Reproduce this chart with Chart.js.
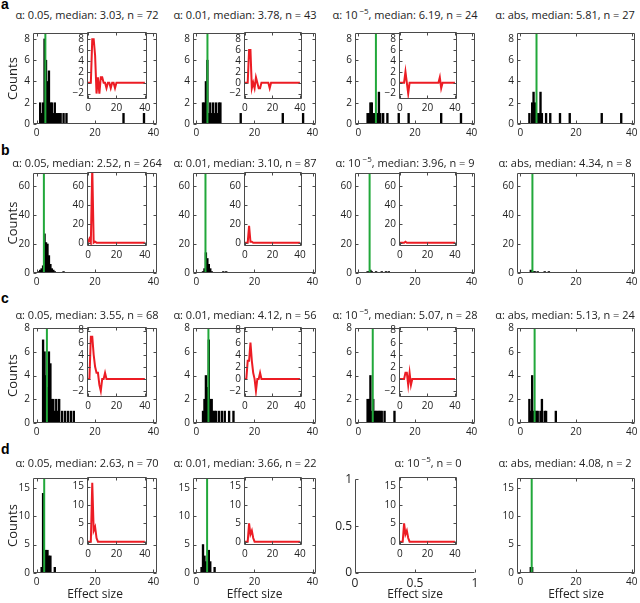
<!DOCTYPE html>
<html>
<head>
<meta charset="utf-8">
<script src="https://cdn.jsdelivr.net/npm/chart.js@4.4.1/dist/chart.umd.min.js"></script>
<style>
  body { margin: 0; width: 640px; height: 603px; position: relative; overflow: hidden; background: #fff;
         font-family: 'Open Sans', sans-serif; color: #222; }
  canvas { position: absolute; }
  canvas.inset { z-index: 2; }
  .ttl { position: absolute; font-size: 11px; line-height: 12px; white-space: nowrap; transform: translate(-50%, -50%); z-index: 1; }
  .ttl sup { font-size: 8px; line-height: 0; margin-left: 2px; }
  .lbl { position: absolute; font: bold 14px 'Liberation Sans', Arial, sans-serif; color: #000; }
</style>
</head>
<body>
<script>
// ---- data ----
const rowLetters = ['a', 'b', 'c', 'd'];
const titles = [
  ['α: 0.05, median: 3.03, n = 72', 'α: 0.01, median: 3.78, n = 43', 'α: 10<sup>−5</sup>, median: 6.19, n = 24', 'α: abs, median: 5.81, n = 27'],
  ['α: 0.05, median: 2.52, n = 264', 'α: 0.01, median: 3.10, n = 87', 'α: 10<sup>−5</sup>, median: 3.96, n = 9', 'α: abs, median: 4.34, n = 8'],
  ['α: 0.05, median: 3.55, n = 68', 'α: 0.01, median: 4.12, n = 56', 'α: 10<sup>−5</sup>, median: 5.07, n = 28', 'α: abs, median: 5.13, n = 24'],
  ['α: 0.05, median: 2.63, n = 70', 'α: 0.01, median: 3.66, n = 22', 'α: 10<sup>−5</sup>, n = 0', 'α: abs, median: 4.08, n = 2']
];
const medians = [
  [3.03, 3.78, 6.19, 5.81],
  [2.52, 3.10, 3.96, 4.34],
  [3.55, 4.12, 5.07, 5.13],
  [2.63, 3.66, null, 4.08]
];

// histograms: [bin centre, count]
const histA1 = [[1.25,2],[1.75,1],[2.25,2],[2.75,8],[3.25,6],[3.75,4],[4.25,5],[4.75,2],[5.25,2],[5.75,1],[6.25,2],[6.75,1],[7.25,1],[7.75,1],[8.25,1],[9.25,1],[10.25,1],[29.75,1],[36.75,1]];
const histA2 = [[2.25,2],[2.75,2],[3.25,4],[3.75,6],[4.25,1],[4.75,2],[5.25,1],[5.75,2],[6.25,1],[6.75,2],[7.25,1],[7.75,2],[8.25,2],[15.25,1],[29.75,1],[36.75,1]];
const histA3 = [[3.25,1],[3.75,1],[4.25,2],[4.75,2],[5.25,1],[5.75,1],[6.25,1],[6.75,1],[7.25,3],[7.75,1],[8.75,1],[10.25,1],[14.25,1],[17.75,1],[29.25,1],[36.25,1]];
const histA4 = [[3.25,1],[4.25,2],[4.75,3],[5.25,2],[5.75,1],[6.25,1],[6.75,1],[7.25,3],[7.75,1],[9.25,1],[10.75,1],[14.25,1],[17.75,1],[29.25,1],[36.25,1]];
const histB1 = [[0.75,1],[1.25,2],[1.75,3],[2.25,5],[2.75,27],[3.25,21],[3.75,20],[4.25,12],[4.75,6],[5.25,3],[5.75,2],[6.25,1],[9.25,1]];
const histB2 = [[2.25,1],[2.75,3],[3.25,14],[3.75,10],[4.25,6],[4.75,3],[5.25,1],[9.25,1],[10.25,1]];
const histB3 = [[3.25,1],[3.75,1],[4.25,2],[4.75,1],[6.25,1],[8.25,1],[9.75,1],[10.75,1]];
const histB4 = [[3.75,2],[4.25,1],[4.75,1],[5.25,1],[6.25,1],[8.75,1],[10.25,1]];
const histC1 = [[2.25,7],[2.75,6],[3.25,4],[3.75,3],[4.25,6],[4.75,5],[5.25,2],[5.75,2],[6.25,1],[6.75,2],[7.25,1],[7.75,2],[8.75,1],[9.75,1],[10.75,1],[11.75,1],[12.75,1]];
const histC2 = [[2.25,1],[2.75,2],[3.25,4],[3.75,3],[4.25,7],[4.75,2],[5.25,2],[5.75,1],[6.25,1],[6.75,1],[7.75,1],[8.75,1],[9.75,1],[11.25,1],[12.75,1]];
const histC3 = [[3.25,2],[3.75,2],[4.25,4],[4.75,1],[5.25,2],[5.75,1],[6.25,1],[6.75,1],[7.25,1],[7.75,1],[8.25,1],[9.25,1],[12.75,1]];
const histC4 = [[3.25,2],[3.75,1],[4.25,4],[4.75,1],[5.25,1],[5.75,1],[6.25,1],[7.25,1],[7.75,2],[8.75,1],[9.25,1],[12.75,1]];
const histD1 = [[1.75,1],[2.25,14],[2.75,4],[3.25,4],[3.75,4],[4.25,3],[4.75,3],[6.25,1]];
const histD2 = [[1.75,1],[2.25,5],[2.75,3],[3.25,2],[3.75,1],[4.25,4],[4.75,2],[6.25,1]];
const histD4 = [[3.75,1],[4.25,1]];

// inset difference curves, one value per effect size 0..40
const diffX  = [0,1,2,3,4,5,6,7,8,9,10,11,12,13,14,15,16,17,18,19,20,21,22,23,24,25,26,27,28,29,30,31,32,33,34,35,36,37,38,39,40];
const diffA1 = [0,0,0,8,8,5,-2,1,-2,1,1,0,0,-1,0,0,-1,0,0,-1,0,0,0,0,0,0,0,0,0,0,0,0,0,0,0,0,0,0,0,0,0];
const diffA2 = [0,0,0,6,6,-1,0,-1,1,0,-1,-1,0,0,0,0,0,0,-1,0,0,0,0,0,0,0,0,0,0,0,0,0,0,0,0,0,0,0,0,0,0];
const diffA3 = [0,0,0,0,2,0,-2,0,0,0,0,0,0,0,0,0,0,0,0,0,0,0,0,0,0,0,0,0,0,1,-1,0,0,0,0,0,0,0,0,0,0];
const diffB1 = [0,4,0,80,0,1,0,0,0,0,0,0,0,0,0,0,0,0,0,0,0,0,0,0,0,0,0,0,0,0,0,0,0,0,0,0,0,0,0,0,0];
const diffB2 = [0,0,0,18,1,1,0,0,0,0,0,0,0,0,0,0,0,0,0,0,0,0,0,0,0,0,0,0,0,0,0,0,0,0,0,0,0,0,0,0,0];
const diffB3 = [0,0,0,0,1,0,0,0,0,0,0,0,0,0,0,0,0,0,0,0,0,0,0,0,0,0,0,0,0,0,0,0,0,0,0,0,0,0,0,0,0];
const diffC1 = [0,0,7,7,4,2,1,1,-1,-2,0,0,1,0,0,0,0,0,0,0,0,0,0,0,0,0,0,0,0,0,0,0,0,0,0,0,0,0,0,0,0];
const diffC2 = [0,0,3,3,6,3,1,0,-2,0,0,1,0,0,0,0,0,0,0,0,0,0,0,0,0,0,0,0,0,0,0,0,0,0,0,0,0,0,0,0,0];
const diffC3 = [0,0,0,0,1,1,-1,1,-1,0,0,0,0,0,0,0,0,0,0,0,0,0,0,0,0,0,0,0,0,0,0,0,0,0,0,0,0,0,0,0,0];
const diffD1 = [0,0,0,16,3,4,1,0,0,0,0,0,0,0,0,0,0,0,0,0,0,0,0,0,0,0,0,0,0,0,0,0,0,0,0,0,0,0,0,0,0];
const diffD2 = [0,0,0,5,2,3,1,0,0,0,0,0,0,0,0,0,0,0,0,0,0,0,0,0,0,0,0,0,0,0,0,0,0,0,0,0,0,0,0,0,0];
const diffD3 = [0,0,0,5,2,3,1,0,0,0,0,0,0,0,0,0,0,0,0,0,0,0,0,0,0,0,0,0,0,0,0,0,0,0,0,0,0,0,0,0,0];

const hists = [[histA1, histA2, histA3, histA4], [histB1, histB2, histB3, histB4],
               [histC1, histC2, histC3, histC4], [histD1, histD2, null, histD4]];
const diffs = [[diffA1, diffA2, diffA3], [diffB1, diffB2, diffB3],
               [diffC1, diffC2, diffC3], [diffD1, diffD2, diffD3]];

// tick labels
const xTicks = [0, 20, 40];
const emptyTicks = [0, 0.5, 1];
const mainYTicks = [[0, 2, 4, 6, 8], [0, 20, 40, 60], [0, 2, 4, 6, 8], [0, 5, 10, 15]];
const insetYTicks = [[-2, 0, 2, 4, 6, 8], [0, 20, 40, 60], [-2, 0, 2, 4, 6, 8], [0, 5, 10, 15]];

// axis ranges per row
const yMax = [8.56, 69, 8, 16.7];
const insetY = [[-3, 9.33], [-3.5, 75], [-3, 8.6], [-0.9, 17.6]];

// ---- layout ----
const colX = [33, 193, 355, 517], colW = [124, 123, 120, 118];
const rowY = [32, 172, 327, 477], rowH = [92, 101, 96, 96];
const insX = [87, 244, 399], insW = [60, 58, 58];
const insH = [67, 74, 70, 68];
const titleX = [87, 245, 405, 565];
const titleY = [15, 163, 315, 463];

const GREEN = '#21a83a', RED = '#ec1c24', AXIS = '#4a4a4a';
const tickFont = { family: "'Open Sans', sans-serif", size: 10 };

const frame = {
  id: 'frame',
  beforeDraw(chart, args, o) {
    if (!o.white) return;
    const a = chart.chartArea, ctx = chart.ctx;
    ctx.save(); ctx.fillStyle = '#fff';
    ctx.fillRect(a.left, a.top, a.right - a.left, a.bottom - a.top);
    ctx.restore();
  },
  afterDraw(chart, args, o) {
    const { ctx, chartArea: a, scales } = chart;
    const l = Math.round(a.left) + 0.5, r = Math.round(a.right) - 0.5;
    const t = Math.round(a.top) + 0.5, b = Math.round(a.bottom) - 0.5;
    ctx.save();
    ctx.strokeStyle = AXIS; ctx.lineWidth = 1;
    ctx.beginPath();
    if (o.open) { ctx.moveTo(l, t); ctx.lineTo(l, b); ctx.lineTo(r, b); }
    else ctx.rect(l, t, r - l, b - t);
    scales.x.ticks.forEach(tk => {
      const p = Math.round(scales.x.getPixelForValue(tk.value)) + 0.5;
      ctx.moveTo(p, b); ctx.lineTo(p, b - 3);
      if (!o.open) { ctx.moveTo(p, t); ctx.lineTo(p, t + 3); }
    });
    scales.y.ticks.forEach(tk => {
      const p = Math.round(scales.y.getPixelForValue(tk.value)) + 0.5;
      ctx.moveTo(l, p); ctx.lineTo(l + 3, p);
      if (!o.open) { ctx.moveTo(r, p); ctx.lineTo(r - 3, p); }
    });
    ctx.stroke();
    ctx.restore();
  }
};

function place(x, y, w, h, pad, cls) {
  const c = document.createElement('canvas');
  const cw = w + pad.l + pad.r, ch = h + pad.t + pad.b;
  c.width = cw; c.height = ch;
  if (cls) c.className = cls;
  c.style.left = (x - pad.l) + 'px'; c.style.top = (y - pad.t) + 'px';
  c.style.width = cw + 'px'; c.style.height = ch + 'px';
  document.body.appendChild(c);
  return c;
}

function minus(v) { return v < 0 ? '−' + Math.abs(v) : String(v); }

function axes(xr, yr, xt, yt, pad, extra) {
  return {
    x: {
      type: 'linear', min: xr[0], max: xr[1], offset: false,
      grid: { display: false, drawTicks: false }, border: { display: false },
      ticks: { autoSkip: false, maxRotation: 0, padding: 3,
               color: '#222', font: extra.xFont || tickFont, callback: minus },
      afterBuildTicks(s) { s.ticks = xt.map(v => ({ value: v })); },
      title: extra.xTitle ? { display: true, text: extra.xTitle, color: '#222',
        font: { family: "'Open Sans', sans-serif", size: 12 }, padding: { top: 0, bottom: 1 } } : { display: false },
      afterFit(s) { s.height = pad.b; }
    },
    y: {
      type: 'linear', min: yr[0], max: yr[1],
      grid: { display: false, drawTicks: false }, border: { display: false },
      ticks: { autoSkip: false, padding: 3,
               color: '#222', font: extra.yFont || tickFont, callback: minus },
      afterBuildTicks(s) { s.ticks = yt.map(v => ({ value: v })); },
      title: extra.yTitle ? { display: true, text: extra.yTitle, color: '#222',
        font: { family: "'Open Sans', sans-serif", size: 13 }, padding: { top: 5, bottom: 0 } } : { display: false },
      afterFit(s) { s.width = pad.l; }
    }
  };
}

function mainPanel(r, c) {
  const pad = { l: c === 0 ? colX[0] : 26, t: 8, r: 10, b: r === 3 ? 30 : 16 };
  const cv = place(colX[c], rowY[r], colW[c], rowH[r], pad);
  const empty = hists[r][c] === null;
  const datasets = [];
  if (!empty) {
    datasets.push({
      type: 'line', order: 0,
      data: [{ x: medians[r][c], y: 0 }, { x: medians[r][c], y: yMax[r] }],
      borderColor: GREEN, borderWidth: 2, pointRadius: 0
    });
    datasets.push({
      type: 'bar', order: 1,
      data: hists[r][c].map(p => ({ x: p[0], y: p[1] })),
      backgroundColor: '#000', borderWidth: 0, barThickness: 1.7
    });
  }
  const bigFont = { family: "'Open Sans', sans-serif", size: 12 };
  new Chart(cv, {
    type: 'bar',
    data: { datasets },
    options: {
      responsive: false, animation: false,
      layout: { padding: { left: 0, top: pad.t, right: pad.r, bottom: 0 } },
      plugins: { legend: { display: false }, tooltip: { enabled: false }, frame: { open: empty } },
      scales: empty
        ? axes([0, 1], [0, 1], emptyTicks, emptyTicks, pad, { xTitle: 'Effect size', xFont: bigFont, yFont: bigFont })
        : axes([-1.2, 41.2], [0, yMax[r]], xTicks, mainYTicks[r], pad,
               { yTitle: c === 0 ? 'Counts' : null, xTitle: r === 3 ? 'Effect size' : null })
    },
    plugins: [frame]
  });
}

function insetPanel(r, c) {
  const pad = { l: 15, t: 9, r: 8, b: 14 };
  const cv = place(insX[c], rowY[r], insW[c], insH[r], pad, 'inset');
  new Chart(cv, {
    type: 'line',
    data: {
      datasets: [{
        data: diffX.map((x, i) => ({ x, y: diffs[r][c][i] })),
        borderColor: RED, borderWidth: 2, pointRadius: 0, tension: 0
      }]
    },
    options: {
      responsive: false, animation: false,
      layout: { padding: { left: 0, top: pad.t, right: pad.r, bottom: 0 } },
      plugins: { legend: { display: false }, tooltip: { enabled: false }, frame: { white: true } },
      scales: axes([-0.7, 41.5], insetY[r], xTicks, insetYTicks[r], pad, {})
    },
    plugins: [frame]
  });
}

for (let r = 0; r < 4; r++) {
  for (let c = 0; c < 4; c++) {
    mainPanel(r, c);
    if (c < 3) insetPanel(r, c);
    const t = document.createElement('div');
    t.className = 'ttl';
    t.innerHTML = titles[r][c];
    t.style.left = (r === 3 && c === 2 ? 428 : titleX[c]) + 'px';
    t.style.top = titleY[r] + 'px';
    document.body.appendChild(t);
  }
  const l = document.createElement('div');
  l.className = 'lbl';
  l.textContent = rowLetters[r];
  l.style.left = '1px';
  l.style.top = [-4, 142, 290, 441][r] + 'px';
  document.body.appendChild(l);
}
</script>
</body>
</html>
